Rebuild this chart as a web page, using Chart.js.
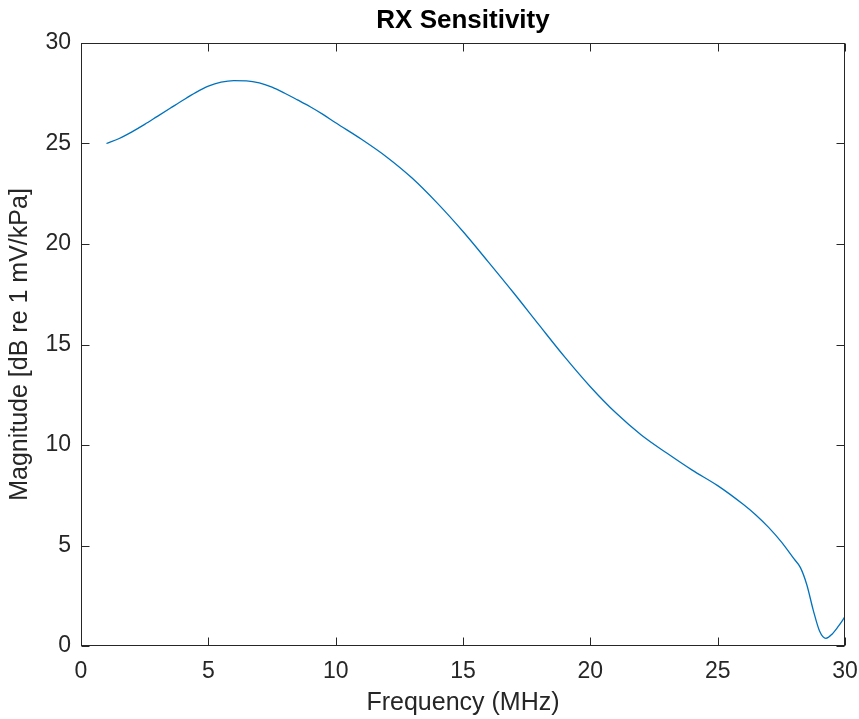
<!DOCTYPE html>
<html>
<head>
<meta charset="utf-8">
<script src="https://cdn.jsdelivr.net/npm/chart.js@4"></script>
<style>
  body { margin: 0; background: #fff; }
  canvas { display: block; }
</style>
</head>
<body>
<canvas id="rxChart" width="859" height="719"></canvas>
<script>
const chartTitle = 'RX Sensitivity';
const freqs = [1, 1.5, 2, 2.5, 3, 3.5, 4, 4.5, 5, 5.5, 6, 6.5, 7, 7.5, 8, 8.5, 9, 9.5, 10,
  11, 12, 13, 14, 15, 16, 17, 18, 19, 20, 21, 22, 23, 24, 25, 26, 26.5, 27, 27.5, 28,
  28.25, 28.5, 28.75, 29, 29.25, 29.5, 29.75, 30];
const magnitudes = [25.0, 25.25, 25.58, 25.95, 26.35, 26.75, 27.15, 27.53, 27.85, 28.05, 28.13, 28.12, 28.02, 27.8, 27.5, 27.17, 26.83, 26.45, 26.03,
  25.22, 24.33, 23.28, 22.02, 20.62, 19.1, 17.55, 15.95, 14.37, 12.9, 11.6, 10.5, 9.6, 8.75, 7.98, 7.05, 6.52, 5.9, 5.18, 4.33,
  3.9, 3.05, 1.8, 0.75, 0.38, 0.6, 1.0, 1.46];
const xTicks = [0, 5, 10, 15, 20, 25, 30];
const yTicks = [0, 5, 10, 15, 20, 25, 30];

const axisColor = '#262626';
const fontFamily = 'Arial, "Liberation Sans", Helvetica, sans-serif';

// box round the plot with inward ticks on all four sides, like matlab,
// and the title centred over the plot area
const boxPlugin = {
  id: 'boxPlugin',
  afterDraw(chart) {
    const { ctx, chartArea: a, scales } = chart;
    const L = Math.round(a.left) + 0.5, R = Math.round(a.right) - 0.5;
    const T = Math.round(a.top) + 0.5, B = Math.round(a.bottom) - 0.5;
    const len = 8;
    ctx.save();
    ctx.strokeStyle = axisColor;
    ctx.lineWidth = 1;
    ctx.strokeRect(L, T, R - L, B - T);
    ctx.beginPath();
    xTicks.forEach(v => {
      const px = Math.round(scales.x.getPixelForValue(v)) + 0.5;
      ctx.moveTo(px, B); ctx.lineTo(px, B - len);
      ctx.moveTo(px, T); ctx.lineTo(px, T + len);
    });
    yTicks.forEach(v => {
      const py = Math.round(scales.y.getPixelForValue(v)) + 0.5;
      ctx.moveTo(L, py); ctx.lineTo(L + len, py);
      ctx.moveTo(R, py); ctx.lineTo(R - len, py);
    });
    ctx.stroke();

    ctx.fillStyle = '#000';
    ctx.font = 'bold 26px ' + fontFamily;
    ctx.textAlign = 'center';
    ctx.textBaseline = 'middle';
    ctx.fillText(chartTitle, (a.left + a.right) / 2, 21);
    ctx.restore();
  }
};

new Chart(document.getElementById('rxChart').getContext('2d'), {
  type: 'line',
  data: {
    datasets: [{
      label: chartTitle,
      data: freqs.map((f, i) => ({ x: f, y: magnitudes[i] })),
      borderColor: '#0072BD',
      borderWidth: 1.3,
      pointRadius: 0,
      cubicInterpolationMode: 'monotone',
      fill: false
    }]
  },
  options: {
    responsive: false,
    animation: false,
    layout: { padding: { left: 0, right: 14, top: 43, bottom: 0 } },
    plugins: {
      legend: { display: false },
      tooltip: { enabled: false },
      title: { display: false }
    },
    scales: {
      x: {
        type: 'linear',
        min: 0,
        max: 30,
        afterBuildTicks: s => { s.ticks = xTicks.map(v => ({ value: v })); },
        afterFit: s => { s.height = 73; s.paddingLeft = 0; s.paddingRight = 0; },
        grid: { display: false, drawTicks: false },
        border: { display: false },
        ticks: { color: axisColor, padding: 12, maxRotation: 0, font: { family: fontFamily, size: 23 } },
        title: {
          display: true,
          text: 'Frequency (MHz)',
          color: axisColor,
          font: { family: fontFamily, size: 25 },
          padding: { top: 0, bottom: 1 }
        }
      },
      y: {
        min: 0,
        max: 30,
        afterBuildTicks: s => { s.ticks = yTicks.map(v => ({ value: v })); },
        afterFit: s => { s.width = 81; s.paddingTop = 0; s.paddingBottom = 0; },
        grid: { display: false, drawTicks: false },
        border: { display: false },
        ticks: { color: axisColor, padding: 10, font: { family: fontFamily, size: 23 } },
        title: {
          display: true,
          text: 'Magnitude [dB re 1 mV/kPa]',
          color: axisColor,
          font: { family: fontFamily, size: 25 },
          padding: { top: 5, bottom: 0 }
        }
      }
    }
  },
  plugins: [boxPlugin]
});
</script>
</body>
</html>
